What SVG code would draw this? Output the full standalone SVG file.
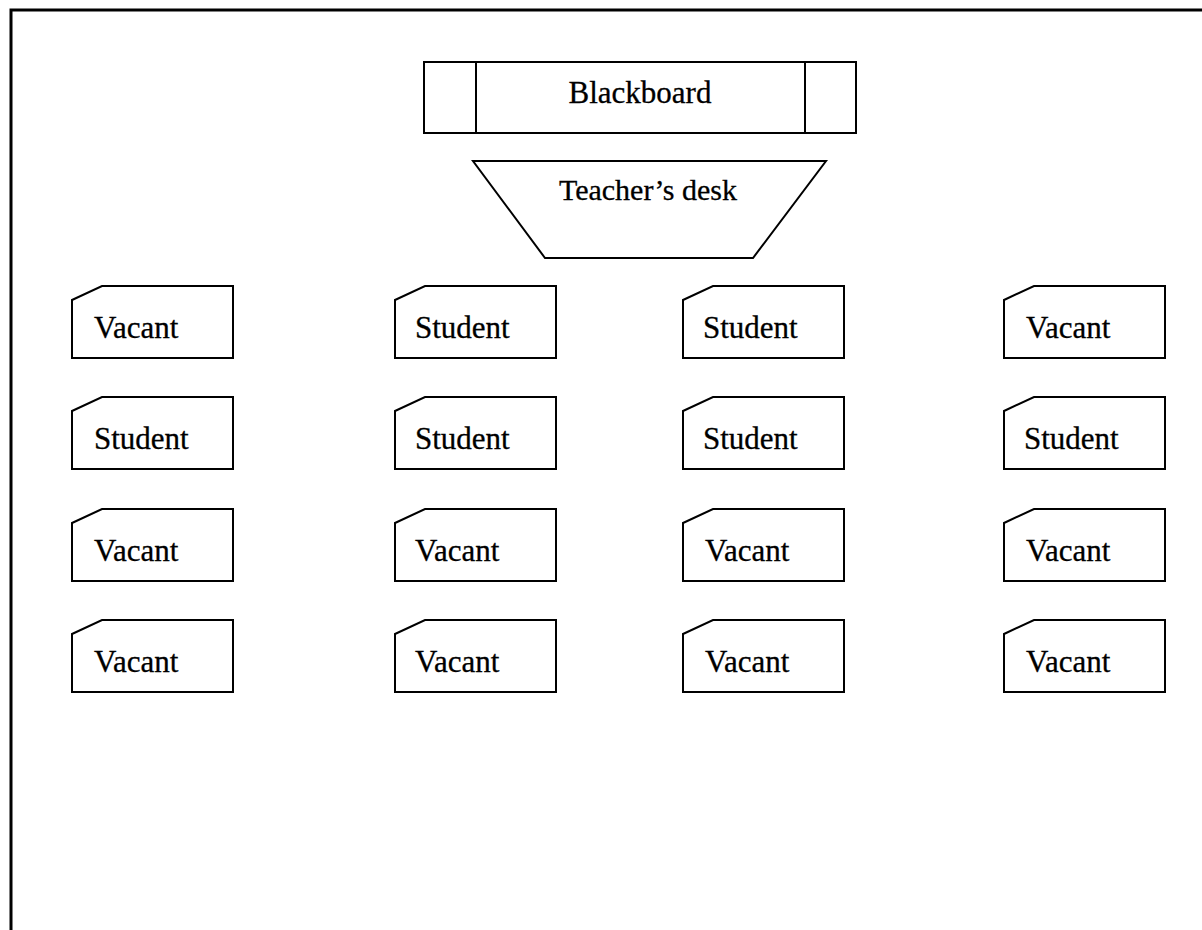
<svg xmlns="http://www.w3.org/2000/svg" width="1202" height="930" viewBox="0 0 1202 930">
<style>
.ln{fill:none;stroke:#000;stroke-width:2}
.sh{fill:#fff;stroke:#000;stroke-width:2;stroke-linejoin:miter}
.tx{font-family:"Liberation Serif","Times New Roman",serif;font-size:31px;fill:#000;stroke:#000;stroke-width:0.3}
</style>
<defs>
<path id="desk" d="M0,14 L30,0 L161,0 L161,72 L0,72 Z"/>
</defs>
<rect width="1202" height="930" fill="#fff"/>
<g id="frame">
<path d="M11,930 L11,10 L1202,10" fill="none" stroke="#000" stroke-width="3"/>
</g>
<g id="blackboard">
<rect class="sh" x="424" y="62" width="432" height="71"/>
<line class="ln" x1="476" y1="62" x2="476" y2="133"/>
<line class="ln" x1="805" y1="62" x2="805" y2="133"/>
<text class="tx" x="640" y="103" text-anchor="middle">Blackboard</text>
</g>
<g id="teachers-desk">
<polygon class="sh" points="473,161 826,161 753,258 545,258"/>
<text class="tx" x="648" y="200" text-anchor="middle" style="font-size:30px">Teacher’s desk</text>
</g>
<g id="r1c1" transform="translate(72,286)"><use href="#desk" class="sh"/><text class="tx" x="22" y="52">Vacant</text></g>
<g id="r1c2" transform="translate(395,286)"><use href="#desk" class="sh"/><text class="tx" x="20" y="52">Student</text></g>
<g id="r1c3" transform="translate(683,286)"><use href="#desk" class="sh"/><text class="tx" x="20" y="52">Student</text></g>
<g id="r1c4" transform="translate(1004,286)"><use href="#desk" class="sh"/><text class="tx" x="22" y="52">Vacant</text></g>
<g id="r2c1" transform="translate(72,397)"><use href="#desk" class="sh"/><text class="tx" x="22" y="52">Student</text></g>
<g id="r2c2" transform="translate(395,397)"><use href="#desk" class="sh"/><text class="tx" x="20" y="52">Student</text></g>
<g id="r2c3" transform="translate(683,397)"><use href="#desk" class="sh"/><text class="tx" x="20" y="52">Student</text></g>
<g id="r2c4" transform="translate(1004,397)"><use href="#desk" class="sh"/><text class="tx" x="20" y="52">Student</text></g>
<g id="r3c1" transform="translate(72,509)"><use href="#desk" class="sh"/><text class="tx" x="22" y="52">Vacant</text></g>
<g id="r3c2" transform="translate(395,509)"><use href="#desk" class="sh"/><text class="tx" x="20" y="52">Vacant</text></g>
<g id="r3c3" transform="translate(683,509)"><use href="#desk" class="sh"/><text class="tx" x="22" y="52">Vacant</text></g>
<g id="r3c4" transform="translate(1004,509)"><use href="#desk" class="sh"/><text class="tx" x="22" y="52">Vacant</text></g>
<g id="r4c1" transform="translate(72,620)"><use href="#desk" class="sh"/><text class="tx" x="22" y="52">Vacant</text></g>
<g id="r4c2" transform="translate(395,620)"><use href="#desk" class="sh"/><text class="tx" x="20" y="52">Vacant</text></g>
<g id="r4c3" transform="translate(683,620)"><use href="#desk" class="sh"/><text class="tx" x="22" y="52">Vacant</text></g>
<g id="r4c4" transform="translate(1004,620)"><use href="#desk" class="sh"/><text class="tx" x="22" y="52">Vacant</text></g>
</svg>
